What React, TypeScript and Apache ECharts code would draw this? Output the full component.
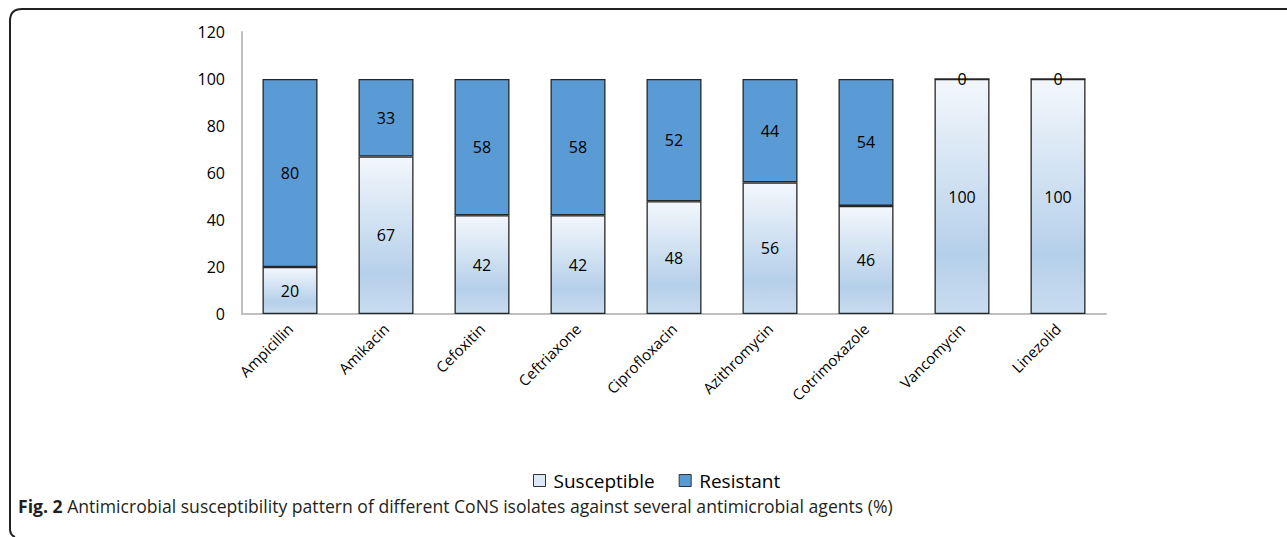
import React, { useEffect, useRef } from "react";
import * as echarts from "echarts";

const categories = ["Ampicillin", "Amikacin", "Cefoxitin", "Ceftriaxone", "Ciprofloxacin", "Azithromycin", "Cotrimoxazole", "Vancomycin", "Linezolid"];
const susceptible = [20, 67, 42, 42, 48, 56, 46, 100, 100];
const resistant = [80, 33, 58, 58, 52, 44, 54, 0, 0];
const yTicks = { min: 0, max: 120, interval: 20 };

const FONT = "'Open Sans', sans-serif";

const framePath = "M 1287 9 L 22 9 Q 10 9 10 21 L 10 529 Q 10 535 15 537";
echarts.graphic.registerShape("frameShape", (echarts.graphic as any).extendPath(framePath, {}));

export default function App() {
  const ref = useRef<HTMLDivElement>(null);
  useEffect(() => {
    if (!ref.current) return;
    const chart = echarts.init(ref.current, null, { renderer: "svg" });
    const suscColor = new echarts.graphic.LinearGradient(0, 0, 0, 1, [
      { offset: 0, color: "#f3f7fc" },
      { offset: 0.75, color: "#b5d0ea" },
      { offset: 1, color: "#c8dcef" },
    ]);
    chart.setOption({
      animation: false,
      textStyle: { fontFamily: FONT },
      grid: { left: 242, right: 181, top: 32, bottom: 223, containLabel: false },
      legend: {
        data: [
          { name: "Susceptible", itemStyle: { color: "#dce8f5", borderColor: "#333", borderWidth: 1 } },
          { name: "Resistant", itemStyle: { color: "#5b9bd5", borderColor: "#333", borderWidth: 1 } },
        ],
        top: 466,
        left: 528,
        icon: "rect",
        itemWidth: 12,
        itemHeight: 12,
        itemGap: 24,
        textStyle: { fontSize: 19, color: "#000", fontFamily: FONT, padding: [0, 0, 0, 3] },
      },
      xAxis: {
        type: "category",
        data: categories,
        axisLine: { lineStyle: { color: "#bfbfbf", width: 2 } },
        axisTick: { show: false },
        axisLabel: { rotate: 45, fontSize: 15, color: "#000", margin: 12, interval: 0, fontFamily: FONT },
      },
      yAxis: {
        type: "value",
        min: yTicks.min,
        max: yTicks.max,
        interval: yTicks.interval,
        axisLine: { show: true, lineStyle: { color: "#bfbfbf", width: 2 } },
        axisTick: { show: false },
        splitLine: { show: false },
        axisLabel: { fontSize: 16, color: "#000", margin: 17, fontFamily: FONT },
      },
      series: [
        {
          name: "Susceptible",
          type: "bar",
          stack: "total",
          data: susceptible,
          barWidth: 55,
          itemStyle: { color: suscColor, borderColor: "#262626", borderWidth: 1.3 },
          label: { show: true, position: "inside", fontSize: 16, color: "#000", fontFamily: FONT },
        },
        {
          name: "Resistant",
          type: "bar",
          stack: "total",
          data: resistant,
          barWidth: 55,
          itemStyle: { color: "#5b9bd5", borderColor: "#262626", borderWidth: 1.3 },
          label: { show: true, position: "inside", fontSize: 16, color: "#000", fontFamily: FONT },
        },
      ],
      graphic: [
        {
          type: "frameShape",
          x: 0,
          y: 0,
          style: { fill: null, stroke: "#222", lineWidth: 2 },
          silent: true,
        } as any,
        {
          type: "text",
          left: 18,
          top: 497,
          style: {
            text: "{b|Fig. 2} Antimicrobial susceptibility pattern of different CoNS isolates against several antimicrobial agents (%)",
            fontFamily: FONT,
            fontSize: 17.6,
            fill: "#231f20",
            rich: {
              b: { fontWeight: "bold", fontSize: 17.6, fontFamily: FONT, fill: "#231f20" },
            },
          },
        },
      ],
    });
    return () => chart.dispose();
  }, []);
  return <div ref={ref} style={{ position: "absolute", left: 0, top: 0, width: 1287, height: 537 }} />;
}
